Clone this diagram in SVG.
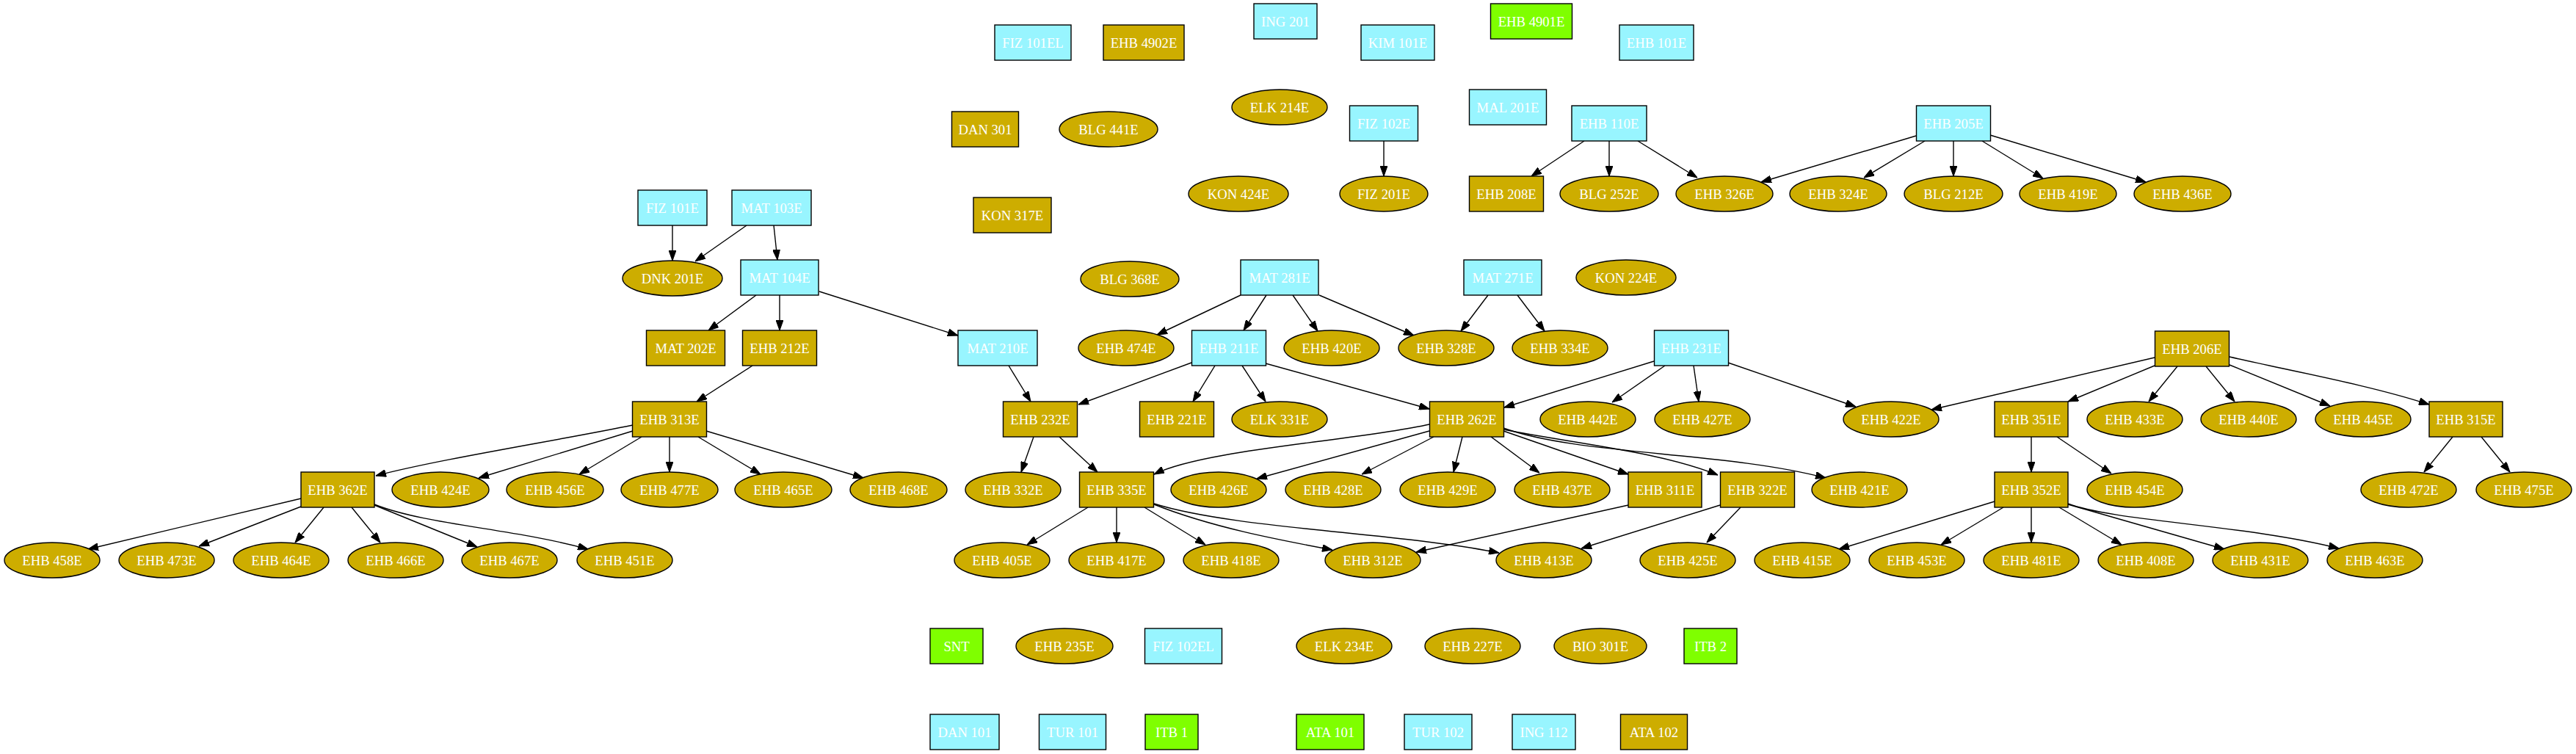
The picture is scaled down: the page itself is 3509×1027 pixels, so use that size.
<svg xmlns="http://www.w3.org/2000/svg" width="3509" height="1027" viewBox="0 0 3509 1027">
<style>
.c{fill:#98f5ff;stroke:#000;stroke-width:1.4}
.g{fill:#cdad00;stroke:#000;stroke-width:1.4}
.v{fill:#7fff00;stroke:#000;stroke-width:1.4}
text{font-family:"Liberation Serif","Times New Roman",serif;font-size:18.67px;fill:#fff;text-anchor:middle}
#edges path{fill:none;stroke:#000;stroke-width:1.4;marker-end:url(#a)}
</style>
<defs>
<marker id="a" markerWidth="14" markerHeight="10" refX="14" refY="5" orient="auto" markerUnits="userSpaceOnUse"><path d="M0,0 L14,5 L0,10 z" fill="#000" stroke="#000" stroke-width="1"/></marker>
</defs>
<rect width="3509" height="1027" fill="#fff"/>
<g id="edges">
<path d="M1885,192 L1885,240"/>
<path d="M2158,192 L2086,240"/>
<path d="M2192,192 L2192,240"/>
<path d="M2231,192 L2312,242"/>
<path d="M2610,185 L2399,248"/>
<path d="M2622,192 L2539,242"/>
<path d="M2661,192 L2661,240"/>
<path d="M2700,192 L2783,243"/>
<path d="M2711,184 L2923,248"/>
<path d="M916,307 L916,355"/>
<path d="M1017,307 L947,356"/>
<path d="M1054,307 L1059,354"/>
<path d="M1030,402 L965,450"/>
<path d="M1062,402 L1062,450"/>
<path d="M1116,397 L1305,457"/>
<path d="M1025,498 L949,547"/>
<path d="M1374,498 L1404,547"/>
<path d="M1623,494 L1469,551"/>
<path d="M1690,402 L1576,456"/>
<path d="M1725,402 L1694,450"/>
<path d="M1761,402 L1795,451"/>
<path d="M1797,402 L1926,457"/>
<path d="M2027,402 L1990,451"/>
<path d="M2067,402 L2104,451"/>
<path d="M1655,498 L1625,547"/>
<path d="M1692,498 L1724,547"/>
<path d="M1724,495 L1947,557"/>
<path d="M2253,492 L2049,555"/>
<path d="M2268,498 L2196,548"/>
<path d="M2307,498 L2314,547"/>
<path d="M2354,494 L2528,554"/>
<path d="M1408,595 L1391,643"/>
<path d="M1443,595 L1495,643"/>
<path d="M1947,578 C1850,600 1640,612 1572,646"/>
<path d="M1947,587 L1712,652"/>
<path d="M1953,595 L1855,646"/>
<path d="M1992,595 L1980,643"/>
<path d="M2031,595 L2097,644"/>
<path d="M2048,587 L2218,646"/>
<path d="M2048,585 C2150,605 2260,615 2340,647"/>
<path d="M2048,583 C2150,620 2350,615 2487,651"/>
<path d="M1482,691 L1399,742"/>
<path d="M1521,691 L1521,739"/>
<path d="M1559,691 L1642,742"/>
<path d="M1572,687 C1650,718 1740,735 1815,749"/>
<path d="M1572,686 C1680,720 1900,725 2042,753"/>
<path d="M2218,688 L1929,752"/>
<path d="M2343,688 L2154,747"/>
<path d="M2371,691 L2325,739"/>
<path d="M862,579 C760,600 600,625 512,648"/>
<path d="M862,587 L652,651"/>
<path d="M874,595 L789,646"/>
<path d="M912,595 L912,643"/>
<path d="M951,595 L1036,646"/>
<path d="M962,587 L1176,651"/>
<path d="M410,679 L120,748"/>
<path d="M410,690 L271,744"/>
<path d="M441,691 L402,739"/>
<path d="M479,691 L518,739"/>
<path d="M510,688 L650,745"/>
<path d="M510,687 C580,715 700,720 801,748"/>
<path d="M2935,487 L2631,558"/>
<path d="M2935,498 L2817,547"/>
<path d="M2966,499 L2927,547"/>
<path d="M3005,499 L3044,547"/>
<path d="M3037,497 L3174,553"/>
<path d="M3037,486 C3120,505 3230,525 3309,551"/>
<path d="M2767,595 L2767,643"/>
<path d="M2802,595 L2876,645"/>
<path d="M3341,595 L3302,643"/>
<path d="M3380,595 L3419,643"/>
<path d="M2717,683 L2505,748"/>
<path d="M2729,691 L2644,742"/>
<path d="M2767,691 L2767,739"/>
<path d="M2805,691 L2890,742"/>
<path d="M2817,687 L3030,748"/>
<path d="M2817,686 C2880,710 3060,715 3186,747"/>
</g>
<!-- cyan boxes -->
<g id="n_FIZ101EL"><rect class="c" x="1355" y="34" width="104" height="48"/><text x="1407" y="64.5">FIZ 101EL</text></g>
<g id="n_ING201"><rect class="c" x="1708" y="5" width="86" height="48"/><text x="1751" y="35.5">ING 201</text></g>
<g id="n_KIM101E"><rect class="c" x="1854" y="34" width="100" height="48"/><text x="1904" y="64.5">KIM 101E</text></g>
<g id="n_EHB101E"><rect class="c" x="2206" y="34" width="101" height="48"/><text x="2256.5" y="64.5">EHB 101E</text></g>
<g id="n_MAL201E"><rect class="c" x="2001.5" y="122" width="105" height="48"/><text x="2054" y="152.5">MAL 201E</text></g>
<g id="n_FIZ102E"><rect class="c" x="1838.5" y="144" width="93" height="48"/><text x="1885" y="174.5">FIZ 102E</text></g>
<g id="n_EHB110E"><rect class="c" x="2141" y="144" width="102" height="48"/><text x="2192" y="174.5">EHB 110E</text></g>
<g id="n_EHB205E"><rect class="c" x="2610.5" y="144" width="101" height="48"/><text x="2661" y="174.5">EHB 205E</text></g>
<g id="n_FIZ101E"><rect class="c" x="869" y="259" width="94" height="48"/><text x="916" y="289.5">FIZ 101E</text></g>
<g id="n_MAT103E"><rect class="c" x="997" y="259" width="108" height="48"/><text x="1051" y="289.5">MAT 103E</text></g>
<g id="n_MAT104E"><rect class="c" x="1009" y="354" width="106" height="48"/><text x="1062" y="384.5">MAT 104E</text></g>
<g id="n_MAT281E"><rect class="c" x="1690" y="354" width="106" height="48"/><text x="1743" y="384.5">MAT 281E</text></g>
<g id="n_MAT271E"><rect class="c" x="1994" y="354" width="106" height="48"/><text x="2047" y="384.5">MAT 271E</text></g>
<g id="n_MAT210E"><rect class="c" x="1305" y="450" width="108" height="48"/><text x="1359" y="480.5">MAT 210E</text></g>
<g id="n_EHB211E"><rect class="c" x="1623.5" y="450" width="101" height="48"/><text x="1674" y="480.5">EHB 211E</text></g>
<g id="n_EHB231E"><rect class="c" x="2253.5" y="450" width="101" height="48"/><text x="2304" y="480.5">EHB 231E</text></g>
<g id="n_FIZ102EL"><rect class="c" x="1559.5" y="856" width="105" height="48"/><text x="1612" y="886.5">FIZ 102EL</text></g>
<g id="n_DAN101"><rect class="c" x="1267" y="973" width="94" height="48"/><text x="1314" y="1003.5">DAN 101</text></g>
<g id="n_TUR101"><rect class="c" x="1415.5" y="973" width="91" height="48"/><text x="1461" y="1003.5">TUR 101</text></g>
<g id="n_TUR102"><rect class="c" x="1913" y="973" width="92" height="48"/><text x="1959" y="1003.5">TUR 102</text></g>
<g id="n_ING112"><rect class="c" x="2060" y="973" width="86" height="48"/><text x="2103" y="1003.5">ING 112</text></g>
<!-- green boxes -->
<g id="n_EHB4901E"><rect class="v" x="2030.5" y="5" width="111" height="48"/><text x="2086" y="35.5">EHB 4901E</text></g>
<g id="n_SNT"><rect class="v" x="1267" y="856" width="72" height="48"/><text x="1303" y="886.5">SNT</text></g>
<g id="n_ITB2"><rect class="v" x="2294" y="856" width="72" height="48"/><text x="2330" y="886.5">ITB 2</text></g>
<g id="n_ITB1"><rect class="v" x="1560" y="973" width="72" height="48"/><text x="1596" y="1003.5">ITB 1</text></g>
<g id="n_ATA101"><rect class="v" x="1766" y="973" width="92" height="48"/><text x="1812" y="1003.5">ATA 101</text></g>
<!-- gold boxes -->
<g id="n_EHB4902E"><rect class="g" x="1503" y="34" width="110" height="48"/><text x="1558" y="64.5">EHB 4902E</text></g>
<g id="n_DAN301"><rect class="g" x="1296.5" y="152" width="91" height="48"/><text x="1342" y="182.5">DAN 301</text></g>
<g id="n_EHB208E"><rect class="g" x="2001.5" y="240" width="101" height="48"/><text x="2052" y="270.5">EHB 208E</text></g>
<g id="n_KON317E"><rect class="g" x="1326" y="269" width="106" height="48"/><text x="1379" y="299.5">KON 317E</text></g>
<g id="n_MAT202E"><rect class="g" x="880.5" y="450" width="107" height="48"/><text x="934" y="480.5">MAT 202E</text></g>
<g id="n_EHB212E"><rect class="g" x="1011.5" y="450" width="101" height="48"/><text x="1062" y="480.5">EHB 212E</text></g>
<g id="n_EHB206E"><rect class="g" x="2935.5" y="451" width="101" height="48"/><text x="2986" y="481.5">EHB 206E</text></g>
<g id="n_EHB313E"><rect class="g" x="861.5" y="547" width="101" height="48"/><text x="912" y="577.5">EHB 313E</text></g>
<g id="n_EHB232E"><rect class="g" x="1366.5" y="547" width="101" height="48"/><text x="1417" y="577.5">EHB 232E</text></g>
<g id="n_EHB221E"><rect class="g" x="1552.5" y="547" width="101" height="48"/><text x="1603" y="577.5">EHB 221E</text></g>
<g id="n_EHB262E"><rect class="g" x="1947.5" y="547" width="101" height="48"/><text x="1998" y="577.5">EHB 262E</text></g>
<g id="n_EHB351E"><rect class="g" x="2717" y="547" width="100" height="48"/><text x="2767" y="577.5">EHB 351E</text></g>
<g id="n_EHB315E"><rect class="g" x="3309" y="547" width="100" height="48"/><text x="3359" y="577.5">EHB 315E</text></g>
<g id="n_EHB362E"><rect class="g" x="410" y="643" width="100" height="48"/><text x="460" y="673.5">EHB 362E</text></g>
<g id="n_EHB335E"><rect class="g" x="1470.5" y="643" width="101" height="48"/><text x="1521" y="673.5">EHB 335E</text></g>
<g id="n_EHB311E"><rect class="g" x="2218" y="643" width="100" height="48"/><text x="2268" y="673.5">EHB 311E</text></g>
<g id="n_EHB322E"><rect class="g" x="2343.5" y="643" width="101" height="48"/><text x="2394" y="673.5">EHB 322E</text></g>
<g id="n_EHB352E"><rect class="g" x="2717" y="643" width="100" height="48"/><text x="2767" y="673.5">EHB 352E</text></g>
<g id="n_ATA102"><rect class="g" x="2207.5" y="973" width="91" height="48"/><text x="2253" y="1003.5">ATA 102</text></g>
<!-- gold ellipses -->
<g id="n_ELK214E"><ellipse class="g" cx="1743" cy="146" rx="65" ry="24"/><text x="1743" y="152.5">ELK 214E</text></g>
<g id="n_BLG441E"><ellipse class="g" cx="1510" cy="176" rx="67" ry="24"/><text x="1510" y="182.5">BLG 441E</text></g>
<g id="n_KON424E"><ellipse class="g" cx="1687" cy="264" rx="68" ry="24"/><text x="1687" y="270.5">KON 424E</text></g>
<g id="n_FIZ201E"><ellipse class="g" cx="1885" cy="264" rx="60" ry="24"/><text x="1885" y="270.5">FIZ 201E</text></g>
<g id="n_BLG252E"><ellipse class="g" cx="2192" cy="264" rx="67" ry="24"/><text x="2192" y="270.5">BLG 252E</text></g>
<g id="n_EHB326E"><ellipse class="g" cx="2349" cy="264" rx="66" ry="24"/><text x="2349" y="270.5">EHB 326E</text></g>
<g id="n_EHB324E"><ellipse class="g" cx="2504" cy="264" rx="66" ry="24"/><text x="2504" y="270.5">EHB 324E</text></g>
<g id="n_BLG212E"><ellipse class="g" cx="2661" cy="264" rx="67" ry="24"/><text x="2661" y="270.5">BLG 212E</text></g>
<g id="n_EHB419E"><ellipse class="g" cx="2817" cy="264" rx="66" ry="24"/><text x="2817" y="270.5">EHB 419E</text></g>
<g id="n_EHB436E"><ellipse class="g" cx="2973" cy="264" rx="66" ry="24"/><text x="2973" y="270.5">EHB 436E</text></g>
<g id="n_DNK201E"><ellipse class="g" cx="916" cy="379" rx="68" ry="24"/><text x="916" y="385.5">DNK 201E</text></g>
<g id="n_BLG368E"><ellipse class="g" cx="1539" cy="380" rx="67" ry="24"/><text x="1539" y="386.5">BLG 368E</text></g>
<g id="n_KON224E"><ellipse class="g" cx="2215" cy="378" rx="68" ry="24"/><text x="2215" y="384.5">KON 224E</text></g>
<g id="n_EHB474E"><ellipse class="g" cx="1534" cy="474" rx="65" ry="24"/><text x="1534" y="480.5">EHB 474E</text></g>
<g id="n_EHB420E"><ellipse class="g" cx="1814" cy="474" rx="65" ry="24"/><text x="1814" y="480.5">EHB 420E</text></g>
<g id="n_EHB328E"><ellipse class="g" cx="1970" cy="474" rx="65" ry="24"/><text x="1970" y="480.5">EHB 328E</text></g>
<g id="n_EHB334E"><ellipse class="g" cx="2125" cy="474" rx="65" ry="24"/><text x="2125" y="480.5">EHB 334E</text></g>
<g id="n_ELK331E"><ellipse class="g" cx="1743" cy="571" rx="65" ry="24"/><text x="1743" y="577.5">ELK 331E</text></g>
<g id="n_EHB442E"><ellipse class="g" cx="2163" cy="571" rx="65" ry="24"/><text x="2163" y="577.5">EHB 442E</text></g>
<g id="n_EHB427E"><ellipse class="g" cx="2319" cy="571" rx="65" ry="24"/><text x="2319" y="577.5">EHB 427E</text></g>
<g id="n_EHB422E"><ellipse class="g" cx="2576" cy="571" rx="65" ry="24"/><text x="2576" y="577.5">EHB 422E</text></g>
<g id="n_EHB433E"><ellipse class="g" cx="2908" cy="571" rx="65" ry="24"/><text x="2908" y="577.5">EHB 433E</text></g>
<g id="n_EHB440E"><ellipse class="g" cx="3063" cy="571" rx="65" ry="24"/><text x="3063" y="577.5">EHB 440E</text></g>
<g id="n_EHB445E"><ellipse class="g" cx="3219" cy="571" rx="65" ry="24"/><text x="3219" y="577.5">EHB 445E</text></g>
<g id="n_EHB424E"><ellipse class="g" cx="600" cy="667" rx="66" ry="24"/><text x="600" y="673.5">EHB 424E</text></g>
<g id="n_EHB456E"><ellipse class="g" cx="756" cy="667" rx="66" ry="24"/><text x="756" y="673.5">EHB 456E</text></g>
<g id="n_EHB477E"><ellipse class="g" cx="912" cy="667" rx="66" ry="24"/><text x="912" y="673.5">EHB 477E</text></g>
<g id="n_EHB465E"><ellipse class="g" cx="1067" cy="667" rx="66" ry="24"/><text x="1067" y="673.5">EHB 465E</text></g>
<g id="n_EHB468E"><ellipse class="g" cx="1224" cy="667" rx="66" ry="24"/><text x="1224" y="673.5">EHB 468E</text></g>
<g id="n_EHB332E"><ellipse class="g" cx="1380" cy="667" rx="65" ry="24"/><text x="1380" y="673.5">EHB 332E</text></g>
<g id="n_EHB426E"><ellipse class="g" cx="1660" cy="667" rx="65" ry="24"/><text x="1660" y="673.5">EHB 426E</text></g>
<g id="n_EHB428E"><ellipse class="g" cx="1816" cy="667" rx="65" ry="24"/><text x="1816" y="673.5">EHB 428E</text></g>
<g id="n_EHB429E"><ellipse class="g" cx="1972" cy="667" rx="65" ry="24"/><text x="1972" y="673.5">EHB 429E</text></g>
<g id="n_EHB437E"><ellipse class="g" cx="2128" cy="667" rx="65" ry="24"/><text x="2128" y="673.5">EHB 437E</text></g>
<g id="n_EHB421E"><ellipse class="g" cx="2533" cy="667" rx="65" ry="24"/><text x="2533" y="673.5">EHB 421E</text></g>
<g id="n_EHB454E"><ellipse class="g" cx="2908" cy="667" rx="65" ry="24"/><text x="2908" y="673.5">EHB 454E</text></g>
<g id="n_EHB472E"><ellipse class="g" cx="3281" cy="667" rx="65" ry="24"/><text x="3281" y="673.5">EHB 472E</text></g>
<g id="n_EHB475E"><ellipse class="g" cx="3438" cy="667" rx="65" ry="24"/><text x="3438" y="673.5">EHB 475E</text></g>
<g id="n_EHB458E"><ellipse class="g" cx="71" cy="763" rx="65" ry="24"/><text x="71" y="769.5">EHB 458E</text></g>
<g id="n_EHB473E"><ellipse class="g" cx="227" cy="763" rx="65" ry="24"/><text x="227" y="769.5">EHB 473E</text></g>
<g id="n_EHB464E"><ellipse class="g" cx="383" cy="763" rx="65" ry="24"/><text x="383" y="769.5">EHB 464E</text></g>
<g id="n_EHB466E"><ellipse class="g" cx="539" cy="763" rx="65" ry="24"/><text x="539" y="769.5">EHB 466E</text></g>
<g id="n_EHB467E"><ellipse class="g" cx="694" cy="763" rx="65" ry="24"/><text x="694" y="769.5">EHB 467E</text></g>
<g id="n_EHB451E"><ellipse class="g" cx="851" cy="763" rx="65" ry="24"/><text x="851" y="769.5">EHB 451E</text></g>
<g id="n_EHB405E"><ellipse class="g" cx="1365" cy="763" rx="65" ry="24"/><text x="1365" y="769.5">EHB 405E</text></g>
<g id="n_EHB417E"><ellipse class="g" cx="1521" cy="763" rx="65" ry="24"/><text x="1521" y="769.5">EHB 417E</text></g>
<g id="n_EHB418E"><ellipse class="g" cx="1677" cy="763" rx="65" ry="24"/><text x="1677" y="769.5">EHB 418E</text></g>
<g id="n_EHB312E"><ellipse class="g" cx="1870" cy="763" rx="65" ry="24"/><text x="1870" y="769.5">EHB 312E</text></g>
<g id="n_EHB413E"><ellipse class="g" cx="2103" cy="763" rx="65" ry="24"/><text x="2103" y="769.5">EHB 413E</text></g>
<g id="n_EHB425E"><ellipse class="g" cx="2299" cy="763" rx="65" ry="24"/><text x="2299" y="769.5">EHB 425E</text></g>
<g id="n_EHB415E"><ellipse class="g" cx="2455" cy="763" rx="65" ry="24"/><text x="2455" y="769.5">EHB 415E</text></g>
<g id="n_EHB453E"><ellipse class="g" cx="2611" cy="763" rx="65" ry="24"/><text x="2611" y="769.5">EHB 453E</text></g>
<g id="n_EHB481E"><ellipse class="g" cx="2767" cy="763" rx="65" ry="24"/><text x="2767" y="769.5">EHB 481E</text></g>
<g id="n_EHB408E"><ellipse class="g" cx="2923" cy="763" rx="65" ry="24"/><text x="2923" y="769.5">EHB 408E</text></g>
<g id="n_EHB431E"><ellipse class="g" cx="3079" cy="763" rx="65" ry="24"/><text x="3079" y="769.5">EHB 431E</text></g>
<g id="n_EHB463E"><ellipse class="g" cx="3235" cy="763" rx="65" ry="24"/><text x="3235" y="769.5">EHB 463E</text></g>
<g id="n_EHB235E"><ellipse class="g" cx="1450" cy="880" rx="66" ry="24"/><text x="1450" y="886.5">EHB 235E</text></g>
<g id="n_ELK234E"><ellipse class="g" cx="1831" cy="880" rx="65" ry="24"/><text x="1831" y="886.5">ELK 234E</text></g>
<g id="n_EHB227E"><ellipse class="g" cx="2006" cy="880" rx="65" ry="24"/><text x="2006" y="886.5">EHB 227E</text></g>
<g id="n_BIO301E"><ellipse class="g" cx="2180" cy="880" rx="63" ry="24"/><text x="2180" y="886.5">BIO 301E</text></g>
</svg>
